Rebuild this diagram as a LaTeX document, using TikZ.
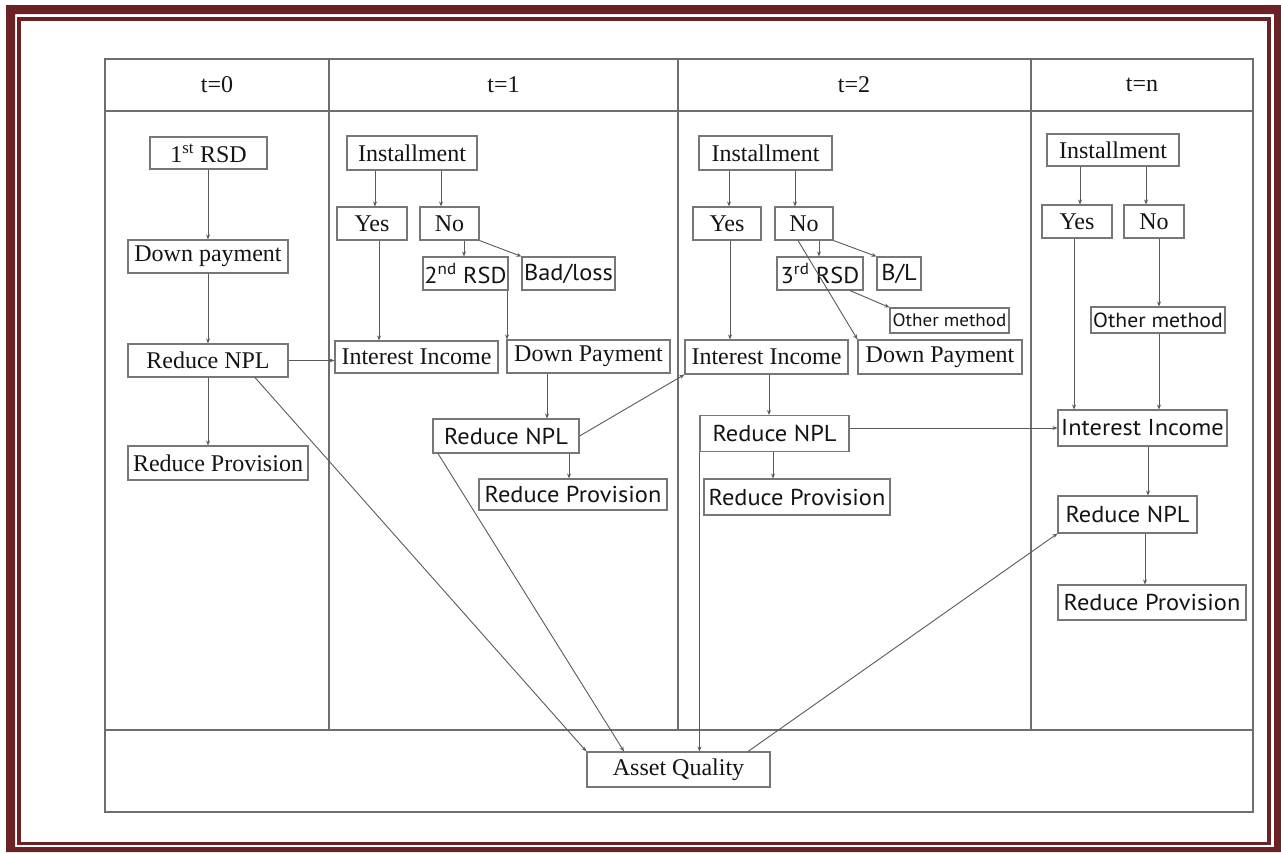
\documentclass[tikz,border=0pt]{standalone}
\usepackage{fontspec}
\setmainfont{Liberation Serif}
\newfontfamily\sansf{PT Sans}[FakeStretch=1.06]
\usetikzlibrary{arrows.meta}

\definecolor{framered}{HTML}{6B2224}
\definecolor{rulegray}{HTML}{6E6E6E}
\definecolor{boxgray}{HTML}{777777}
\definecolor{wiregray}{HTML}{5A5A5A}
\definecolor{inkgray}{HTML}{141414}

\tikzset{
  box/.style={draw=boxgray, line width=1.1pt, inner sep=0pt, text=inkgray, minimum height=33pt},
  serifbox/.style={box, font=\fontsize{24}{28}\selectfont},
  sansbox/.style={box, font=\sansf\fontsize{23}{27}\selectfont},
  smallbox/.style={box, font=\sansf\fontsize{18}{22}\selectfont, minimum height=25pt},
  arr/.style={draw=wiregray, line width=0.9pt, -{Stealth[length=5pt,width=4pt]}},
  rule/.style={draw=rulegray, line width=1.6pt},
  head/.style={font=\fontsize{24}{28}\selectfont, text=inkgray, inner sep=0pt},
}

% vertical arrow from the bottom of #1 to the top of #2 at x = #3
\newcommand\vconnect[3]{\draw[arr] (#1.south -| #3,0) -- (#2.north -| #3,0);}

\begin{document}
\begin{tikzpicture}[x=1pt,y=-1pt]
\useasboundingbox (0,0) rectangle (1281,852);

% double maroon frame
\fill[framered, even odd rule] (6,5) rectangle (1281,852) (15,14) rectangle (1274,847);
\draw[framered, line width=3.5pt] (19,19) rectangle (1269,843.5);

% table grid
\draw[rule] (105,59) rectangle (1253,812);
\draw[rule] (105,111) -- (1253,111);
\draw[rule] (105,730) -- (1253,730);
\draw[rule] (329,59) -- (329,730);
\draw[rule] (678,59) -- (678,730);
\draw[rule] (1031,59) -- (1031,730);

% column heads
\node[head] (h0) at (217,85) {t=0};
\node[head] (h1) at (503.5,85) {t=1};
\node[head] (h2) at (854,85) {t=2};
\node[head] (h3) at (1142,85) {t=n};

% t=0
\node[serifbox, minimum width=117pt, minimum height=32pt] (rsd1) at (208.5,153) {1\textsuperscript{st} RSD};
\node[serifbox, minimum width=160pt] (dp0) at (208,256.5) {Down payment};
\node[serifbox, minimum width=160pt] (npl0) at (208,360.5) {Reduce NPL};
\node[serifbox, minimum width=180pt, minimum height=34pt] (prov0) at (218,463) {Reduce Provision};

% t=1
\node[serifbox, minimum width=130pt, minimum height=34pt] (inst1) at (412,153) {Installment};
\node[serifbox, minimum width=70pt] (yes1) at (372,223.5) {Yes};
\node[serifbox, minimum width=59pt] (no1) at (449.5,223.5) {No};
\node[sansbox, minimum width=85pt] (rsd2) at (465.5,273.5) {2\textsuperscript{nd} RSD};
\node[sansbox, minimum width=93pt] (bad) at (568.5,273.5) {Bad/loss};
\node[serifbox, minimum width=163pt, minimum height=32pt] (ii1) at (416.5,357) {Interest Income};
\node[serifbox, minimum width=163pt] (dp1) at (588.5,356.5) {Down Payment};
\node[sansbox, minimum width=146pt, minimum height=34pt] (npl1) at (506,436) {Reduce NPL};
\node[sansbox, minimum width=188pt, minimum height=31pt] (prov1) at (573,494.5) {Reduce Provision};

% t=2
\node[serifbox, minimum width=133pt, minimum height=34pt] (inst2) at (765.5,153) {Installment};
\node[serifbox, minimum width=68pt] (yes2) at (727,223.5) {Yes};
\node[serifbox, minimum width=58pt] (no2) at (804,223.5) {No};
\node[sansbox, minimum width=86pt] (rsd3) at (820,273.5) {3\textsuperscript{rd} RSD};
\node[sansbox, minimum width=44pt] (bl) at (899,273.5) {B/L};
\node[smallbox, minimum width=119pt] (om2) at (949.5,320.5) {Other method};
\node[serifbox, minimum width=163pt, minimum height=34pt] (ii2) at (766.5,357) {Interest Income};
\node[serifbox, minimum width=164pt, minimum height=34pt] (dp2) at (940,357) {Down Payment};
\node[sansbox, minimum width=149pt, minimum height=36pt] (npl2) at (774.5,433.5) {Reduce NPL};
\node[sansbox, minimum width=186pt, minimum height=36pt] (prov2) at (797,497) {Reduce Provision};

% t=n
\node[serifbox, minimum width=132pt, minimum height=32pt] (inst3) at (1113,150) {Installment};
\node[serifbox, minimum width=70pt] (yes3) at (1077,221.5) {Yes};
\node[serifbox, minimum width=60pt] (no3) at (1154,221.5) {No};
\node[smallbox, minimum width=134pt, minimum height=26pt, font=\sansf\fontsize{20.5}{24}\selectfont] (om3) at (1158,320) {Other method};
\node[sansbox, minimum width=169pt, minimum height=36pt] (ii3) at (1142.5,428) {Interest Income};
\node[sansbox, minimum width=139pt, minimum height=37pt] (npl3) at (1127.5,514.5) {Reduce NPL};
\node[sansbox, minimum width=188pt, minimum height=35pt] (prov3) at (1152,602.5) {Reduce Provision};

% bottom row
\node[serifbox, minimum width=183pt, minimum height=35pt] (aq) at (678.5,769.5) {Asset Quality};

% connectors, t=0
\vconnect{rsd1}{dp0}{208}
\vconnect{dp0}{npl0}{208}
\vconnect{npl0}{prov0}{208}
\draw[arr] (npl0.east) -- (npl0.east -| ii1.west);
\draw[arr] (npl0.south -| 255,0) -- (aq.north west);

% connectors, t=1
\vconnect{inst1}{yes1}{375}
\vconnect{inst1}{no1}{441}
\vconnect{no1}{rsd2}{464}
\draw[arr] (no1.south east) -- (bad.north west);
\vconnect{yes1}{ii1}{379}
\vconnect{rsd2}{dp1}{507}
\vconnect{dp1}{npl1}{547}
\vconnect{npl1}{prov1}{569}
\draw[arr] (npl1.east) -- (ii2.south west);
\draw[arr] (npl1.south -| 438,0) -- (aq.north -| 624,0);

% connectors, t=2
\vconnect{inst2}{yes2}{729}
\vconnect{inst2}{no2}{795}
\vconnect{no2}{rsd3}{819}
\draw[arr] (no2.south east) -- (bl.north west);
\draw[arr] (rsd3.south -| 850,0) -- (om2.north west);
\draw[arr] (no2.south -| 798,0) -- (dp2.north west);
\vconnect{yes2}{ii2}{730}
\vconnect{ii2}{npl2}{769}
\vconnect{npl2}{prov2}{773}
\draw[arr] (npl2.south west) -- (npl2.south west |- aq.north);
\draw[arr] (npl2.east |- ii3.west) -- (ii3.west);

% connectors, t=n
\vconnect{inst3}{yes3}{1080}
\vconnect{inst3}{no3}{1146}
\vconnect{no3}{om3}{1159}
\vconnect{yes3}{ii3}{1074}
\vconnect{om3}{ii3}{1159}
\vconnect{ii3}{npl3}{1148}
\vconnect{npl3}{prov3}{1145}
\draw[arr] (aq.north -| 748,0) -- (npl3.south west);

\end{tikzpicture}
\end{document}
